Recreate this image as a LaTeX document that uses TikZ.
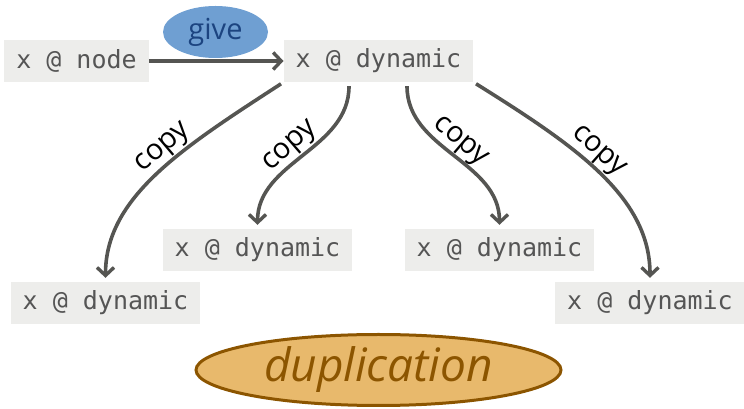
\documentclass[tikz,border=0pt]{standalone}
\usepackage{fontspec}
\setmainfont{Open Sans}
\setmonofont{DejaVu Sans Mono}
\usetikzlibrary{arrows.meta,shapes.geometric}
\definecolor{boxfill}{RGB}{237,237,235}
\definecolor{boxtext}{RGB}{85,85,85}
\definecolor{arrowc}{RGB}{85,85,82}
\definecolor{givefill}{RGB}{111,159,210}
\definecolor{givetext}{RGB}{28,68,128}
\definecolor{dupfill}{RGB}{232,185,108}
\definecolor{dupline}{RGB}{140,85,0}
\tikzset{
  varbox/.style={fill=boxfill, text=boxtext, font=\ttfamily\fontsize{25}{30}\selectfont,
    inner xsep=12pt, inner ysep=0pt, minimum height=42pt},
  flow/.style={draw=arrowc, line width=3.6pt, -{Straight Barb[length=8pt,width=17pt,line width=3.4pt]}},
  copylbl/.style={font=\fontsize{29}{34}\selectfont, sloped, above, text=black, inner sep=1pt}
}
\begin{document}
\begin{tikzpicture}[x=1pt,y=1pt]
\useasboundingbox (0,0) rectangle (744,409);
\node[varbox] (nd) at (76.5,348) {x @ node};
\node[varbox] (top) at (378.5,348) {x @ dynamic};
\node[varbox] (ml) at (257.5,159) {x @ dynamic};
\node[varbox] (mr) at (499.5,159) {x @ dynamic};
\node[varbox] (bl) at (105.5,106) {x @ dynamic};
\node[varbox] (br) at (650,106) {x @ dynamic};
\node[ellipse, fill=givefill, text=givetext, minimum width=105pt, minimum height=52pt, inner sep=0pt,
  font=\fontsize{29}{34}\selectfont] (give) at (215.5,377) {give};
\node[ellipse, fill=dupfill, draw=dupline, line width=3pt, text=dupline, minimum width=365pt,
  minimum height=71pt, inner sep=0pt, font=\itshape\fontsize{46}{52}\selectfont] (dup) at (378.5,39) {duplication};
\draw[flow] (nd.east) -- (top.west);
\draw[flow, shorten <=3pt, shorten >=4pt] (top.south west) to[out=213,in=90,out distance=120pt,in distance=85pt]
  node[copylbl, pos=0.42] {copy} (bl.north);
\draw[flow, shorten <=4pt, shorten >=4pt] ([xshift=-29.5pt]top.south) to[out=-90,in=90]
  node[copylbl, pos=0.52] {copy} (ml.north);
\draw[flow, shorten <=4pt, shorten >=4pt] ([xshift=28.5pt]top.south) to[out=-90,in=90]
  node[copylbl, pos=0.48] {copy} (mr.north);
\draw[flow, shorten <=3pt, shorten >=4pt] (top.south east) to[out=-32,in=90,out distance=120pt,in distance=85pt]
  node[copylbl, pos=0.44] {copy} (br.north);
\end{tikzpicture}
\end{document}
